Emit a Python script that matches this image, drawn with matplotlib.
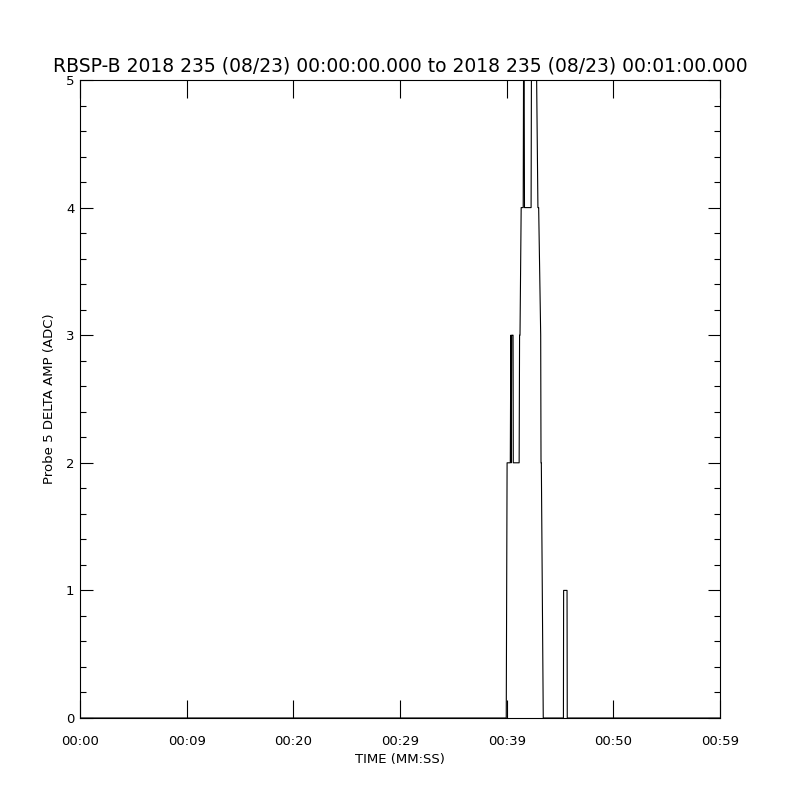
import matplotlib
matplotlib.use('Agg')
import matplotlib.pyplot as plt
from matplotlib.ticker import MultipleLocator, FixedLocator

# Sample times (seconds after 00:00:00) and DELTA AMP values (ADC)
tempos = [0.0, 39.96, 40.04, 40.34, 40.39, 40.43, 40.47, 40.51, 40.60, 40.62,
          41.17, 41.21, 41.25, 41.36, 41.55, 41.58, 41.64, 41.67, 42.29,
          42.32, 42.81, 42.93, 43.00, 43.19, 43.22, 43.25, 43.43,
          45.32, 45.34, 45.66, 45.68, 60.0]
valores = [0, 0, 2, 2, 3, 2, 3, 3, 3, 2,
           2, 3, 3, 4, 4, 5, 5, 4, 4,
           5, 5, 4, 4, 3, 2, 2, 0,
           0, 1, 1, 0, 0]

# Tick positions / labels as printed on the original chart
x_ticks = [0, 10, 20, 30, 40, 50, 60]
x_labels = ['00:00', '00:09', '00:20', '00:29', '00:39', '00:50', '00:59']
y_ticks = [0, 1, 2, 3, 4, 5]

titulo = 'RBSP-B 2018 235 (08/23) 00:00:00.000 to 2018 235 (08/23) 00:01:00.000'

fig = plt.figure(figsize=(8, 8), dpi=100)
ax = fig.add_axes([0.1, 0.1025, 0.8, 0.7975])

ax.plot(tempos, valores, color='black', linewidth=0.8)

ax.set_xlim(0, 60)
ax.set_ylim(0, 5)

ax.xaxis.set_major_locator(FixedLocator(x_ticks))
ax.set_xticklabels(x_labels, fontsize=9.5)
ax.yaxis.set_major_locator(FixedLocator(y_ticks))
ax.yaxis.set_minor_locator(MultipleLocator(0.2))
ax.set_yticklabels([str(v) for v in y_ticks], fontsize=9.5)

ax.tick_params(axis='x', which='major', direction='in', length=13, width=0.8,
               top=True, bottom=True, pad=12)
ax.tick_params(axis='y', which='major', direction='in', length=9, width=0.8,
               left=True, right=True, pad=4)
ax.tick_params(axis='y', which='minor', direction='in', length=4.5, width=0.8,
               left=True, right=True)

for s in ax.spines.values():
    s.set_linewidth(0.8)

ax.set_xlabel('TIME (MM:SS)', fontsize=9.5, labelpad=4)
ax.set_ylabel('Probe 5 DELTA AMP (ADC)', fontsize=9.5, labelpad=7)
ax.set_title(titulo, fontsize=13.5, pad=6)

fig.savefig('out.png', dpi=100)
